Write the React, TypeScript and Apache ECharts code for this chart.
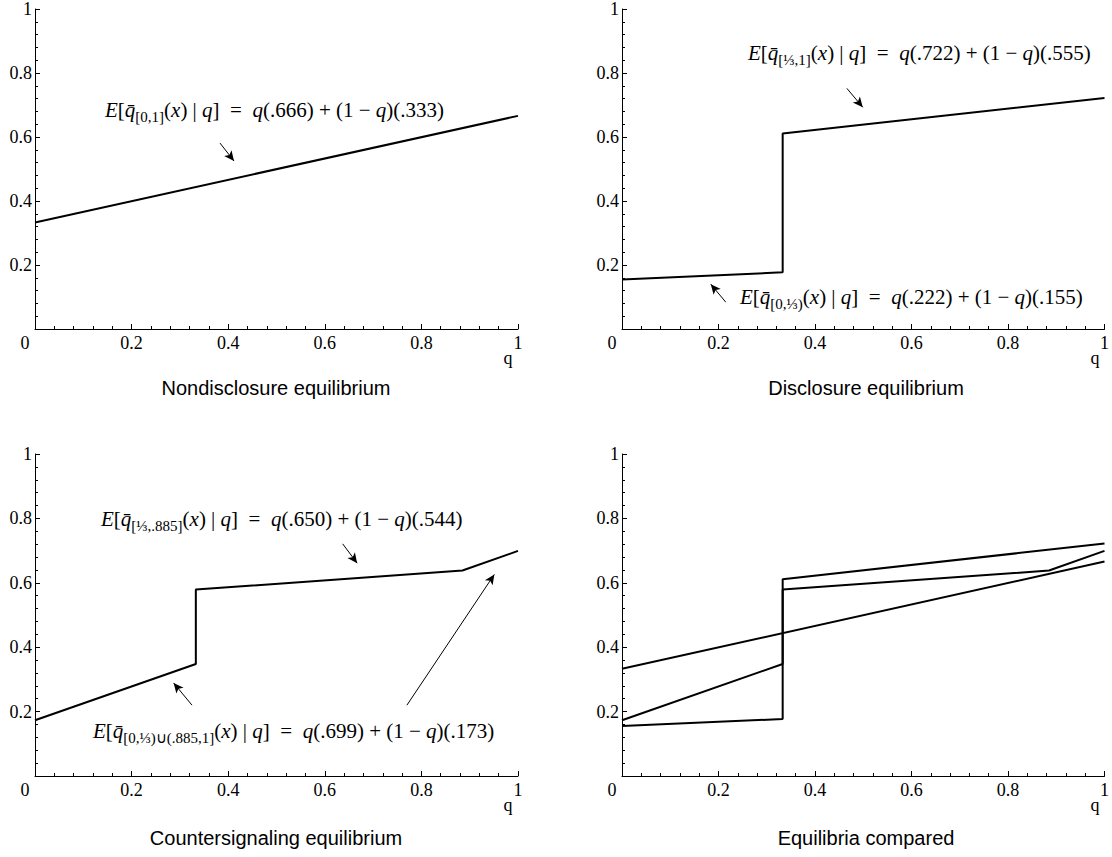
import React, { useEffect, useRef } from "react";
import * as echarts from "echarts";

// ---- data (q, expected quality) ----
const nondisclosure: number[][] = [[0, 0.333], [1, 0.666]];
const disclosure: number[][] = [[0, 0.155], [0.333, 0.177], [0.333, 0.611], [1, 0.722]];
const countersignaling: number[][] = [[0, 0.173], [0.333, 0.348], [0.333, 0.579], [0.885, 0.638], [1, 0.699]];

const panelTitles = ["Nondisclosure equilibrium", "Disclosure equilibrium", "Countersignaling equilibrium", "Equilibria compared"];

// arrow annotations [panel, tailQ, tailV, headQ, headV]
const arrows: number[][] = [
  [0, 0.383, 0.581, 0.412, 0.525],
  [1, 0.466, 0.752, 0.499, 0.693],
  [1, 0.215, 0.084, 0.184, 0.14],
  [2, 0.637, 0.721, 0.667, 0.661],
  [2, 0.325, 0.22, 0.287, 0.289],
  [2, 0.77, 0.22, 0.951, 0.626],
];

const SERIF = "Liberation Serif";
const SANS = "Liberation Sans";

const grids = [
  { left: 35, top: 7, width: 483, height: 322 },
  { left: 622, top: 7, width: 483, height: 322 },
  { left: 35, top: 454, width: 483, height: 322 },
  { left: 622, top: 454, width: 483, height: 322 },
];

const f = (sub: string, a: string, b: string) =>
  `{i|E}{n|[}{i|q\u0304}{s|${sub}}{n|(}{i|x}{n|) | }{i|q}{n|]  =  }{i|q}{n|(${a}) + (1 − }{i|q}{n|)(${b})}`;

const formulas: { text: string; x: number; y: number }[] = [
  { text: f("[0,1]", ".666", ".333"), x: 105, y: 110 },
  { text: f("[⅓,1]", ".722", ".555"), x: 748, y: 53 },
  { text: f("[0,⅓)", ".222", ".155"), x: 740, y: 297 },
  { text: f("[⅓,.885]", ".650", ".544"), x: 101, y: 519 },
  { text: f("[0,⅓)∪(.885,1]", ".699", ".173"), x: 93, y: 731 },
];

const rich = {
  n: { fontFamily: SERIF, fontSize: 21, lineHeight: 28, color: "#000" },
  i: { fontFamily: SERIF, fontSize: 21, fontStyle: "italic", lineHeight: 28, color: "#000" },
  s: { fontFamily: SERIF, fontSize: 15, lineHeight: 15, verticalAlign: "bottom", color: "#000" },
};

export default function App() {
  const ref = useRef<HTMLDivElement>(null);
  useEffect(() => {
    if (!ref.current) return;
    const chart = echarts.init(ref.current, undefined, { renderer: "svg" });

    const xAxis = grids.map((_, i) => ({
      type: "value",
      gridIndex: i,
      min: 0,
      max: 1,
      interval: 0.2,
      axisLine: { onZero: false, lineStyle: { color: "#000", width: 1 } },
      axisTick: { show: true, inside: true, length: 5, lineStyle: { color: "#000" } },
      minorTick: { show: true, splitNumber: 5, length: 3, lineStyle: { color: "#000" } },
      splitLine: { show: false },
      axisLabel: {
        color: "#000",
        fontFamily: SERIF,
        fontSize: 18,
        margin: 5,
        formatter: (v: number) => (Math.abs(v) < 1e-9 ? "{z|0}" : String(+v.toFixed(1))),
        rich: {
          z: { fontFamily: SERIF, fontSize: 18, color: "#000", padding: [0, 20, 0, 0] },
        },
      },
    }));

    const yAxis = grids.map((_, i) => ({
      type: "value",
      gridIndex: i,
      min: 0,
      max: 1,
      interval: 0.2,
      axisLine: { show: true, onZero: false, lineStyle: { color: "#000", width: 1 } },
      axisTick: { show: true, inside: true, length: 5, lineStyle: { color: "#000" } },
      minorTick: { show: true, splitNumber: 5, length: 3, lineStyle: { color: "#000" } },
      splitLine: { show: false },
      axisLabel: {
        color: "#000",
        fontFamily: SERIF,
        fontSize: 18,
        margin: 3,
        showMinLabel: false,
        formatter: (v: number) => String(+v.toFixed(1)),
      },
    }));

    const lineSeries = (data: number[][], idx: number, name: string) => ({
      type: "line",
      name,
      xAxisIndex: idx,
      yAxisIndex: idx,
      data,
      symbol: "none",
      lineStyle: { color: "#000", width: 2 },
      silent: true,
    });

    const markFor = (panel: number) => ({
      silent: true,
      symbol: ["none", "arrow"],
      symbolSize: [7, 10],
      label: { show: false },
      lineStyle: { color: "#000", width: 1, type: "solid" },
      emphasis: { disabled: true },
      data: arrows
        .filter((a) => a[0] === panel)
        .map((a) => [{ coord: [a[1], a[2]] }, { coord: [a[3], a[4]] }]),
    });

    const s0 = { ...lineSeries(nondisclosure, 0, "nondisclosure"), markLine: markFor(0) };
    const s1 = { ...lineSeries(disclosure, 1, "disclosure"), markLine: markFor(1) };
    const s2 = { ...lineSeries(countersignaling, 2, "countersignaling"), markLine: markFor(2) };
    const s3a = lineSeries(nondisclosure, 3, "nondisclosure");
    const s3b = lineSeries(disclosure, 3, "disclosure");
    const s3c = lineSeries(countersignaling, 3, "countersignaling");

    const titleCenters = [
      { x: 276, y: 388 },
      { x: 866, y: 388 },
      { x: 276, y: 838 },
      { x: 866, y: 838 },
    ];

    const graphic: any[] = [];
    panelTitles.forEach((t, i) => {
      graphic.push({
        type: "text",
        x: titleCenters[i].x,
        y: titleCenters[i].y,
        silent: true,
        style: {
          text: "{t|" + t + "}",
          rich: { t: { fontFamily: SANS, fontSize: 20, color: "#000" } },
          fill: "#000",
          textAlign: "center",
          textVerticalAlign: "middle",
          align: "center",
          verticalAlign: "middle",
        },
      });
      const g = grids[i];
      graphic.push({
        type: "text",
        x: g.left + g.width - 10,
        y: g.top + g.height + 29,
        silent: true,
        style: {
          text: "{t|q}",
          rich: { t: { fontFamily: SERIF, fontSize: 18, color: "#000" } },
          textAlign: "center",
          textVerticalAlign: "middle",
          align: "center",
          verticalAlign: "middle",
        },
      });
    });
    formulas.forEach((fm) => {
      graphic.push({
        type: "text",
        x: fm.x,
        y: fm.y,
        silent: true,
        style: {
          text: fm.text,
          rich,
          fill: "#000",
          textAlign: "left",
          textVerticalAlign: "middle",
          align: "left",
          verticalAlign: "middle",
        },
      });
    });

    chart.setOption({
      animation: false,
      backgroundColor: "#fff",
      textStyle: { fontFamily: SERIF },
      grid: grids.map((g) => ({ ...g, containLabel: false })),
      xAxis,
      yAxis,
      series: [s0, s1, s2, s3a, s3b, s3c],
      graphic,
    });
    return () => chart.dispose();
  }, []);

  return (
    <div
      ref={ref}
      style={{ position: "absolute", left: 0, top: 0, width: 1112, height: 857, background: "#fff" }}
    />
  );
}
